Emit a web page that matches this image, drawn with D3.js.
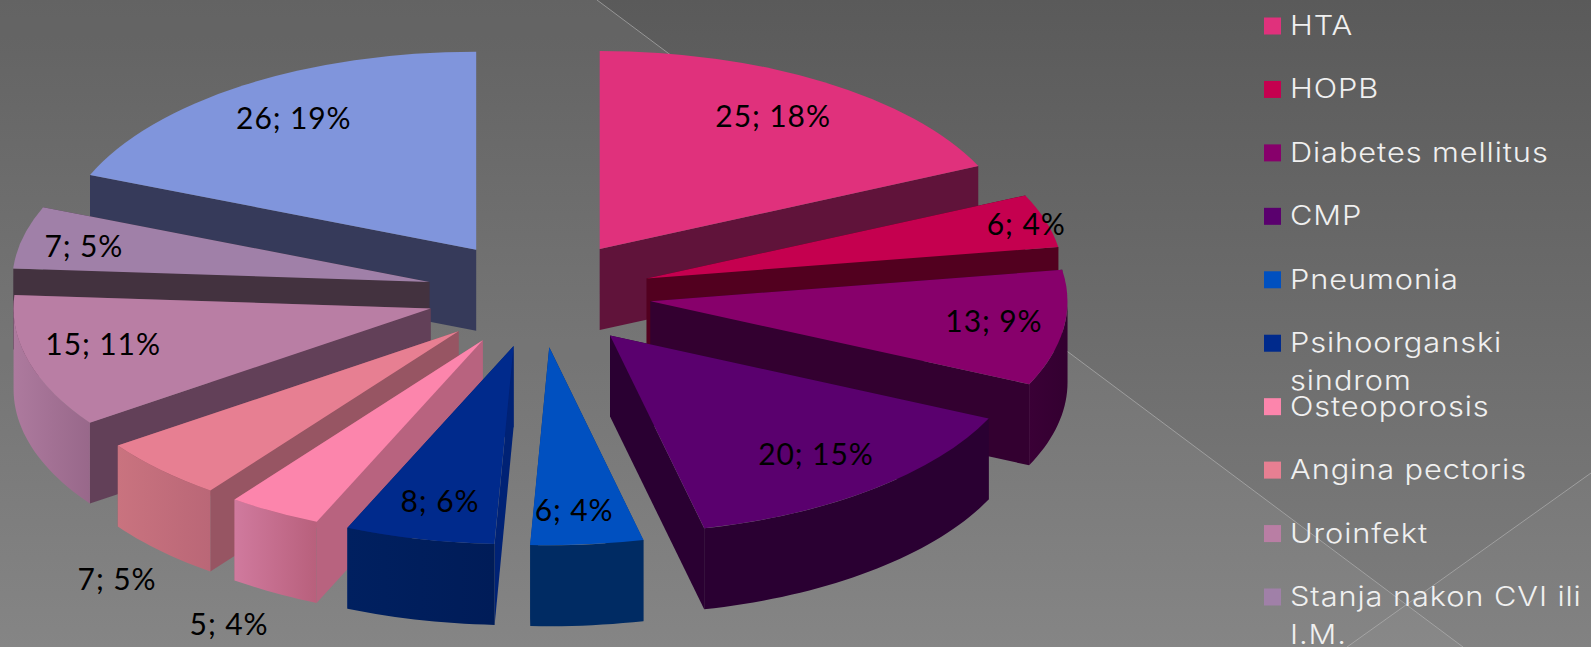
<!DOCTYPE html>
<html><head><meta charset="utf-8">
<style>html,body{margin:0;padding:0;background:#666;overflow:hidden}svg{display:block}</style>
<script src="https://cdn.jsdelivr.net/npm/d3@7"></script></head>
<body><svg id="c" width="1591" height="647"></svg>
<script>
// data
const categories = ["HTA","HOPB","Diabetes mellitus","CMP","Pneumonia","Psihoorganski sindrom","Osteoporosis","Angina pectoris","Uroinfekt","Stanja nakon CVI ili I.M.","Ostalo"];
const values = [25,6,13,20,6,8,5,7,15,7,26];
const percents = [18,4,9,15,4,6,4,5,11,5,19];
const legendCount = 10; // the last legend row is cropped out of the picture

// styles
const topColors = ["#E0317C","#C5004F","#87006B","#5A006E","#0050C0","#002A8C","#FC85AC","#E77F92","#B97EA4","#A080A8","#8095DC"];
const wallColors = ["#60133A","#52001F","#330030","#2A0032","#002B63","#002275","#B8637F","#975563","#624058","#43323F","#363A5A"];
const rimLeft = ["#60133A","#52001F","#3A0036","#2A0032","#002B63","#002060","#D07A9E","#C9737F","#AD7A9E","#43323F","#363A5A"];
const rimRight = ["#60133A","#52001F","#330030","#2A0032","#002B63","#001C58","#B8607C","#BA6777","#98688A","#43323F","#363A5A"];
// label placement: fraction of radius and angular nudge (deg) from each slice's mid angle
const labelRadius = [.787,.953,.832,.781,.825,.802,1.557,1.497,.804,.845,.794];
const labelNudge = [-.5,.2,-.9,-.3,.9,-.5,-7.1,-12.6,2.5,-.9,.7];
const paintOrder = [0,1,2,3,10,9,8,7,6,5,4];

const W=1591,H=647, cx=539, cy=294, rx=417, ry=198, depth=81, explode=.27;
const svg=d3.select("#c"), defs=svg.append("defs");

// background
const bg=defs.append("linearGradient").attr("id","bg").attr("x1",0).attr("y1",0).attr("x2",0).attr("y2",1);
bg.append("stop").attr("offset",0).attr("stop-color","#5a5a5a");
bg.append("stop").attr("offset",1).attr("stop-color","#7e7e7e");
svg.append("rect").attr("width",W).attr("height",H).attr("fill","url(#bg)");
const bgLine=d3.line();
const L1=[[597,0],[1463,647]], L2=[[1591,473],[1347,647]];
svg.append("path").attr("d",bgLine([[0,0],L1[0],L1[1],[0,H]])+"Z").attr("fill","#fff").attr("opacity",.055);
svg.append("path").attr("d",bgLine([L2[0],L2[1],[W,H]])+"Z").attr("fill","#fff").attr("opacity",.03);
[L1,L2].forEach(l=>svg.append("path").attr("d",bgLine(l)).attr("stroke","#b4b4b4").attr("stroke-opacity",.65).attr("fill","none"));

// pie geometry
const pie=d3.pie().sort(null).startAngle(0).endAngle(2*Math.PI);
const arcs=pie(values);
const sx=d3.scaleLinear().domain([-1,1]).range([-rx,rx]);
const sy=d3.scaleLinear().domain([-1,1]).range([-ry,ry]);
const pt=(a,k=1)=>[sx(k*Math.sin(a)),sy(-k*Math.cos(a))];
const unitArc=d3.arc().innerRadius(0).outerRadius(1);
const extrude=d3.area().x(d=>d[0]).y0(d=>d[1]).y1(d=>d[1]+depth);

arcs.forEach((d,i)=>{
  const g=defs.append("linearGradient").attr("id","rim"+i);
  g.append("stop").attr("offset",0).attr("stop-color",rimLeft[i]);
  g.append("stop").attr("offset",1).attr("stop-color",rimRight[i]);
});

paintOrder.forEach(i=>{
  const d=arcs[i], mid=(d.startAngle+d.endAngle)/2;
  const o=pt(mid,explode);
  const g=svg.append("g").attr("transform",`translate(${o[0]+cx},${o[1]+cy})`);
  const rightSide=mid<Math.PI;
  const back=rightSide?d.startAngle:d.endAngle, front=rightSide?d.endAngle:d.startAngle;
  [back,front].forEach(a=>{
    g.append("path").attr("d",extrude([[0,0],pt(a)])).attr("fill",wallColors[i]);
  });
  const a0=Math.max(d.startAngle,Math.PI/2), a1=Math.min(d.endAngle,3*Math.PI/2);
  if(a1>a0){
    const n=Math.max(2,Math.ceil((a1-a0)*40));
    g.append("path").attr("d",extrude(d3.range(n+1).map(k=>pt(a0+(a1-a0)*k/n))))
      .attr("fill",`url(#rim${i})`);
  }
  g.append("path").attr("d",unitArc(d)).attr("transform",`scale(${rx},${ry})`).attr("fill",topColors[i]);
});

// value labels
arcs.forEach((d,i)=>{
  const mid=(d.startAngle+d.endAngle)/2, o=pt(mid,explode);
  const p=pt(mid+labelNudge[i]*Math.PI/180,labelRadius[i]);
  svg.append("text").attr("x",cx-1+o[0]+p[0]).attr("y",cy+o[1]+p[1]+10.5)
    .attr("text-anchor","middle").attr("fill","#000")
    .style("font",'30px Lato, "Open Sans", sans-serif').style("letter-spacing","0.9px")
    .text(`${values[i]}; ${percents[i]}%`);
});

// legend
const legendNames=categories.slice(0,legendCount);
const ly=d3.scalePoint().domain(legendNames).range([26,597]);
const wrap={"Psihoorganski sindrom":["Psihoorganski","sindrom"],"Stanja nakon CVI ili I.M.":["Stanja nakon CVI ili","I.M."]};
legendNames.forEach((n,i)=>{
  const y=ly(n);
  svg.append("rect").attr("x",1264).attr("y",y-8.5).attr("width",17).attr("height",17).attr("fill",topColors[i]);
  const t=svg.append("text").attr("transform","translate(1290,0) scale(1.12,1)").attr("fill","#f0f0f0")
    .style("font",'300 27.5px Inter, Lato, sans-serif').style("letter-spacing","0.8px");
  (wrap[n]||[n]).forEach((s,k)=>t.append("tspan").attr("x",0).attr("y",y+9+k*38).text(s));
});
</script></body></html>
